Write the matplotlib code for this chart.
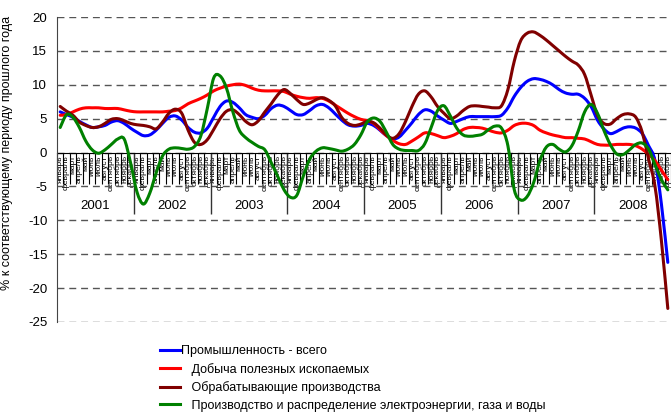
import matplotlib
matplotlib.use('Agg')
import matplotlib.pyplot as plt
import numpy as np
from matplotlib.path import Path
from matplotlib.patches import PathPatch
from matplotlib.lines import Line2D

plt.rcParams['font.family'] = ['Liberation Sans', 'DejaVu Sans']

######
months = ['январь', 'февраль', 'март', 'апрель', 'май', 'июнь', 'июль',
          'август', 'сентябрь', 'октябрь', 'ноябрь', 'декабрь']
years = ['2001', '2002', '2003', '2004', '2005', '2006', '2007', '2008']

# monthly values, % к соответствующему периоду прошлого года (2001-2008)
industry = [6.0, 5.6, 5.2, 4.6, 4.1, 3.7, 3.8, 4.0, 4.5, 4.7, 4.3, 3.6,
            3.0, 2.5, 2.6, 3.3, 4.3, 5.2, 5.4, 4.8, 3.7, 3.0, 2.9, 3.6,
            5.2, 6.8, 7.6, 7.4, 6.6, 5.6, 5.2, 5.0, 5.5, 6.5, 7.0, 6.8,
            6.2, 5.6, 5.6, 6.2, 6.9, 7.1, 6.6, 5.7, 4.8, 4.1, 3.9, 4.0,
            4.3, 4.0, 3.3, 2.5, 2.0, 2.3, 3.3, 4.4, 5.6, 6.3, 6.1, 5.4,
            4.8, 4.3, 4.6, 5.0, 5.3, 5.3, 5.3, 5.3, 5.3, 5.5, 6.6, 8.3,
            9.6, 10.5, 10.9, 10.8, 10.5, 10.0, 9.3, 8.8, 8.6, 8.6, 8.0, 6.8,
            4.8, 3.5, 2.8, 3.1, 3.6, 3.8, 3.6, 2.8, 1.0, -1.2, -7.6, -16.2]
mining = [5.5, 5.6, 6.0, 6.4, 6.6, 6.6, 6.6, 6.5, 6.5, 6.5, 6.3, 6.1,
          6.0, 6.0, 6.0, 6.0, 6.0, 6.1, 6.2, 6.6, 7.2, 7.6, 8.0, 8.5,
          9.1, 9.5, 9.8, 10.0, 10.1, 9.9, 9.5, 9.2, 9.1, 9.1, 9.1, 9.0,
          8.6, 8.3, 8.1, 8.0, 8.1, 8.0, 7.6, 7.0, 6.4, 5.8, 5.3, 4.9,
          4.7, 4.3, 3.4, 2.5, 1.8, 1.3, 1.2, 1.7, 2.3, 2.9, 2.8, 2.5,
          2.2, 2.4, 2.8, 3.4, 3.7, 3.7, 3.6, 3.3, 3.0, 2.9, 3.3, 4.0,
          4.3, 4.3, 4.0, 3.3, 2.9, 2.6, 2.4, 2.2, 2.2, 2.1, 2.0, 1.6,
          1.2, 1.1, 1.1, 1.2, 1.2, 1.2, 1.0, 0.5, -0.3, -1.2, -2.6, -4.0]
manufacturing = [6.8, 6.1, 5.5, 4.5, 4.0, 3.7, 3.8, 4.3, 4.9, 5.0, 4.7, 4.3,
                 4.1, 4.0, 3.8, 3.5, 4.5, 5.8, 6.4, 5.8, 3.3, 1.5, 1.2, 1.9,
                 3.4, 5.0, 6.1, 6.3, 5.6, 4.6, 4.1, 4.7, 6.0, 7.2, 8.5, 9.3,
                 8.7, 7.8, 7.1, 7.3, 7.8, 8.1, 7.7, 6.9, 5.2, 4.3, 4.0, 4.2,
                 4.6, 4.4, 3.6, 2.6, 2.1, 2.8, 4.6, 6.8, 8.6, 9.1, 8.2, 6.8,
                 5.8, 5.0, 5.4, 6.2, 6.8, 6.9, 6.8, 6.7, 6.6, 6.9, 9.3, 13.5,
                 16.5, 17.6, 17.8, 17.3, 16.6, 15.8, 15.0, 14.2, 13.5, 12.9, 11.5, 8.5,
                 5.5, 4.3, 4.2, 5.0, 5.6, 5.7, 5.2, 3.0, -1.0, -5.0, -13.0, -23.0]
utilities = [3.7, 5.6, 5.2, 3.7, 1.7, 0.4, -0.1, 0.4, 1.2, 2.0, 2.0, -1.5,
             -5.8, -7.6, -6.0, -3.0, -0.5, 0.5, 0.7, 0.6, 0.5, 0.9, 2.5, 6.5,
             11.0, 11.3, 9.5, 6.0, 3.3, 2.2, 1.5, 0.9, 0.4, -1.5, -3.5, -5.5,
             -6.6, -6.3, -3.5, -1.0, 0.2, 0.7, 0.6, 0.4, 0.2, 0.5, 1.2, 2.6,
             4.5, 5.1, 4.6, 3.0, 1.2, 0.5, 0.3, 0.3, 0.3, 1.3, 3.7, 6.2,
             6.9, 5.4, 3.6, 2.6, 2.4, 2.5, 2.7, 3.4, 3.9, 3.6, 1.0, -5.5,
             -7.0, -6.5, -4.5, -1.2, 0.8, 1.2, 0.5, 0.1, 1.0, 3.2, 6.0, 7.1,
             5.8, 3.3, 1.2, -0.2, -0.3, 0.4, 1.2, 1.4, 0.5, -1.8, -4.0, -5.5]

labels = ['Промышленность - всего',
          '   Добыча полезных ископаемых',
          '   Обрабатывающие производства',
          '   Производство и распределение электроэнергии, газа и воды']
colors = ['#0000FF', '#FF0000', '#800000', '#008000']

yticks = [20, 15, 10, 5, 0, -5, -10, -15, -20, -25]
ytick_labels = ['20', '15', '10', '5', '0', '-5', '-10', '-15', '-20', '-25']
######


def smooth_path(xs, ys):
    # smoothed line through the points (bezier segments, like the spreadsheet's smoothing)
    pts = np.column_stack([xs, ys])
    verts = [pts[0]]
    codes = [Path.MOVETO]
    for i in range(len(pts) - 1):
        p0 = pts[i - 1] if i > 0 else pts[i]
        p1 = pts[i]
        p2 = pts[i + 1]
        p3 = pts[i + 2] if i + 2 < len(pts) else pts[i + 1]
        verts += [p1 + (p2 - p0) / 6., p2 - (p3 - p1) / 6., p2]
        codes += [Path.CURVE4] * 3
    return Path(verts, codes)


fig = plt.figure(figsize=(6.71, 4.15), dpi=100)
ax = fig.add_axes([57/671., 1-322/415., 1-57/671., (322-17)/415.])

n = len(industry)
x = np.arange(n) + 0.5
handles = []
for series, c, lab in zip([industry, mining, manufacturing, utilities], colors, labels):
    ax.add_patch(PathPatch(smooth_path(x, series), fill=False, edgecolor=c, lw=2.2,
                           joinstyle='round', capstyle='round', zorder=3))
    handles.append(Line2D([], [], color=c, lw=2.2, label=lab))

ax.set_xlim(0, n)
ax.set_ylim(-25, 20)

## y axis
ax.set_yticks(yticks)
ax.set_yticklabels(ytick_labels, fontsize=9.5)
ax.tick_params(axis='y', length=0, pad=7)
ax.grid(axis='y', color='#555555', linestyle=(0, (5, 3.5)), lw=1)
ax.set_axisbelow(True)
ax.set_ylabel('% к соответствующему периоду прошлого года', fontsize=9)
ax.yaxis.set_label_coords(-44/614., (322-153)/305.)

## x axis at zero with month labels
ax.spines['top'].set_visible(False)
ax.spines['right'].set_visible(False)
ax.spines['left'].set_color('#444444')
ax.spines['bottom'].set_position(('data', 0))
ax.spines['bottom'].set_color('black')
ax.spines['bottom'].set_zorder(2)
ax.set_xticks(x)
ax.set_xticklabels(months * len(years), rotation=90, fontsize=6)
ax.tick_params(axis='x', which='major', length=0, pad=2)
ax.set_xticks(np.arange(n + 1), minor=True)
ax.tick_params(axis='x', which='minor', length=22, width=0.8, color='black')

## year groups
ax.vlines(np.arange(12, n, 12), -9, 0, colors='#333333', lw=1, zorder=2)
for k, yr in enumerate(years):
    ax.text(12*k + 6, -7.9, yr, ha='center', va='center', fontsize=9.5)

fig.legend(handles=handles, loc='upper left', bbox_to_anchor=(160/671., 1-345/415.),
           frameon=False, fontsize=9, handlelength=1.6, handletextpad=0.1,
           labelspacing=0.45, borderpad=0, borderaxespad=0)

plt.savefig('out.png', dpi=100)
